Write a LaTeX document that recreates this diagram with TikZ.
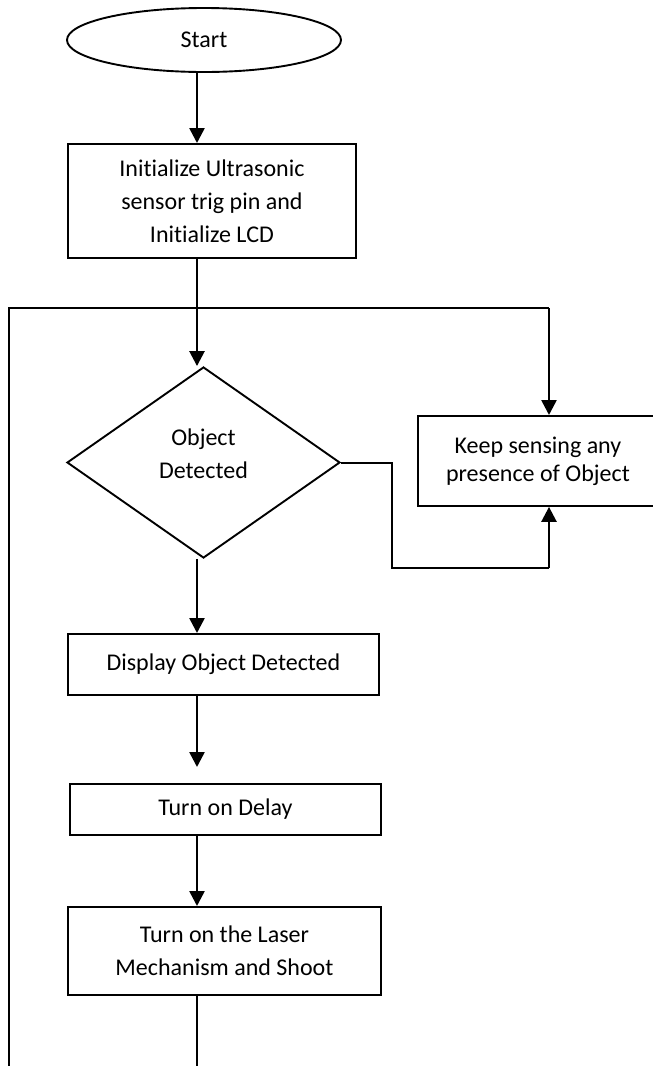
\documentclass[tikz,border=0pt]{standalone}
\usepackage{fontspec}
\setmainfont{Carlito}[Ligatures=NoCommon]
\usetikzlibrary{shapes.geometric, arrows.meta}
\tikzstyle{startstop} = [ellipse, minimum width=274pt, minimum height=64pt, inner sep=0pt, text centered, draw=black, line width=1.9pt]
\tikzstyle{process} = [rectangle, inner sep=0pt, text centered, align=center, draw=black, line width=1.9pt, anchor=north west]
\tikzstyle{decision} = [diamond, minimum width=273pt, minimum height=191pt, inner sep=0pt, text centered, align=center, draw=black, line width=1.9pt]
\tikzstyle{arrow} = [line width=2.6pt, -{Triangle[length=15pt,width=15pt]}]
\tikzstyle{line} = [line width=2.3pt]

\begin{document}
\begin{tikzpicture}[x=1pt, y=-1pt, font={\fontsize{24pt}{33pt}\selectfont}]
\clip (0,0) rectangle (653,1066);
\node (start) [startstop] at (204,40) {Start};
\node (init) [process, minimum width=288pt, minimum height=114pt, text depth=-3pt] at (67,143) {Initialize Ultrasonic\\sensor trig pin and\\Initialize LCD};
\node (detect) [decision, text depth=18pt] at (203.5,462.5) {Object\\Detected};
\node (sense) [process, minimum width=240pt, minimum height=90pt, font={\fontsize{24pt}{28pt}\selectfont}] at (417,415) {Keep sensing any\\presence of Object};
\node (disp) [process, minimum width=311pt, minimum height=61pt] at (67,633) {Display Object Detected};
\node (delay) [process, minimum width=311pt, minimum height=51pt] at (69,783) {Turn on Delay};
\node (laser) [process, minimum width=313pt, minimum height=88pt] at (67,906) {Turn on the Laser\\Mechanism and Shoot};

% main spine and loop corners
\coordinate (spine) at (197,0);
\coordinate (bot) at (197,1066);
\coordinate (lend) at (9,1066);
\coordinate (lloop) at (9,308);
\coordinate (rloop) at (549,308);
\coordinate (jog) at (392,568);

\draw [arrow] (start.south -| spine) -- (init.north -| spine);
\draw [arrow] (init.south -| spine) -- (detect.north -| spine);
\draw [arrow] (detect.south -| spine) -- (disp.north -| spine);
\draw [arrow] (disp.south -| spine) -- ([yshift=16pt]delay.north -| spine);
\draw [arrow] (delay.south -| spine) -- (laser.north -| spine);
\draw [line width=1.5pt] (laser.south -| spine) -- (bot);
\draw [line] (lend) -- (lloop) -- (rloop);
\draw [arrow] (rloop) -- (sense.north -| rloop);
\draw [line width=2pt] (detect.east) -| (jog) -- (jog -| rloop);
\draw [arrow] (jog -| rloop) -- (sense.south -| rloop);
\end{tikzpicture}
\end{document}
